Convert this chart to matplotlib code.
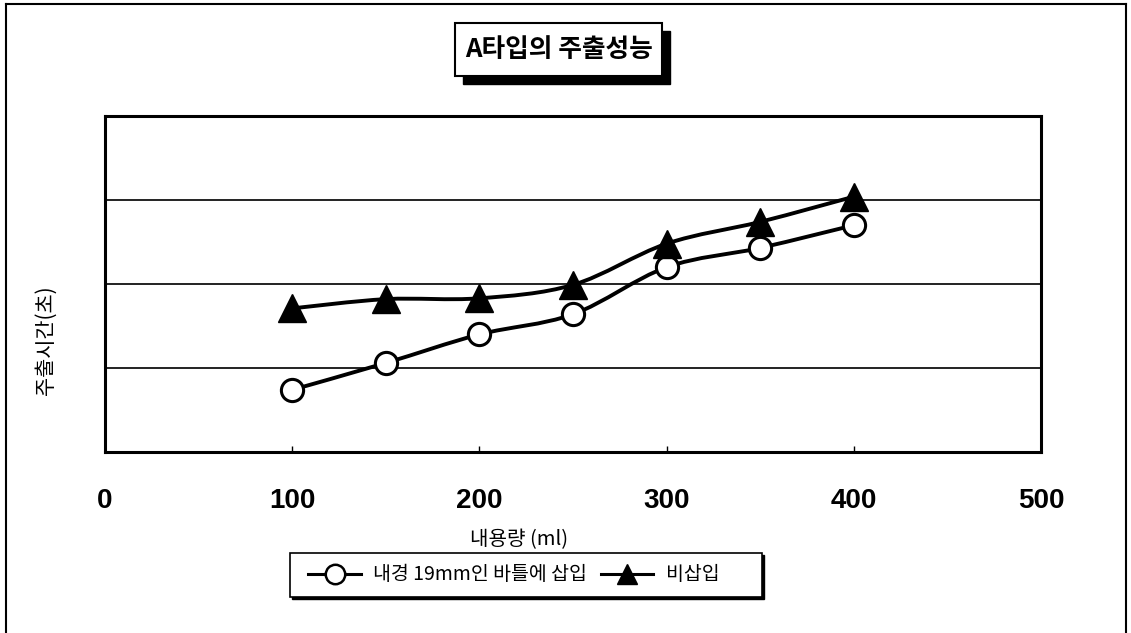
import matplotlib.pyplot as plt
import numpy as np
from matplotlib.path import Path
from matplotlib.patches import PathPatch, Rectangle
from matplotlib.lines import Line2D

plt.rcParams['font.family'] = ['Noto Sans CJK KR', 'DejaVu Sans']

# 데이터 (y축 눈금값이 없어 상대 단위로 읽음)
volume = [100, 150, 200, 250, 300, 350, 400]
inserted = [0.74, 1.06, 1.40, 1.64, 2.20, 2.43, 2.70]     # 내경 19mm인 바틀에 삽입
not_inserted = [1.71, 1.82, 1.83, 1.99, 2.48, 2.74, 3.04]  # 비삽입
x_ticks = [0, 100, 200, 300, 400, 500]
labels = ['내경 19mm인 바틀에 삽입', '비삽입']

W, H = 1131, 633


def smooth_path(xs, ys):
    # 엑셀식 부드러운 선: 데이터 점을 지나는 베지어 곡선
    p = np.column_stack([xs, ys]).astype(float)
    n = len(p)
    verts = [p[0]]
    codes = [Path.MOVETO]
    for i in range(n - 1):
        p0 = p[i - 1] if i > 0 else p[i]
        p3 = p[i + 2] if i + 2 < n else p[i + 1]
        c1 = p[i] + (p[i + 1] - p0) / 6
        c2 = p[i + 1] - (p3 - p[i]) / 6
        verts += [c1, c2, p[i + 1]]
        codes += [Path.CURVE4] * 3
    return Path(verts, codes)


def shadow_box(x0, y0, x1, y1, off, lw):
    # 픽셀 좌표(위에서부터)로 그림자 있는 상자
    fx, fy = x0 / W, 1 - y1 / H
    fw, fh = (x1 - x0) / W, (y1 - y0) / H
    fig.patches.append(Rectangle((fx + off / W, fy - off / H), fw, fh,
                                 transform=fig.transFigure, facecolor='black',
                                 edgecolor='black'))
    fig.patches.append(Rectangle((fx, fy), fw, fh, transform=fig.transFigure,
                                 facecolor='white', edgecolor='black', lw=lw))


fig = plt.figure(figsize=(11.31, 6.33), dpi=100)
ax = fig.add_axes([0.0928, 0.2859, 0.8276, 0.5308])

# 선
for ys in [inserted, not_inserted]:
    ax.add_patch(PathPatch(smooth_path(volume, ys), fill=False,
                           edgecolor='black', lw=2.8, zorder=3))

# 마커
ax.plot(volume, inserted, linestyle='none', marker='o', markersize=16,
        markerfacecolor='white', markeredgecolor='black',
        markeredgewidth=2.2, zorder=4)
ax.plot(volume, not_inserted, linestyle='none', marker='^', markersize=20,
        color='black', zorder=4)

ax.set_xlim(0, 500)
ax.set_ylim(0, 4)
ax.set_xticks(x_ticks)
ax.set_xticklabels([str(t) for t in x_ticks], fontsize=20, fontweight='bold',
                   family=['Liberation Sans', 'DejaVu Sans'])
ax.tick_params(axis='x', direction='in', length=4, width=1, pad=26)
ax.set_yticks([1, 2, 3])
ax.set_yticklabels([])
ax.tick_params(axis='y', length=0)
ax.grid(axis='y', color='#222222', lw=1.4)
ax.set_axisbelow(True)
for s in ax.spines.values():
    s.set_linewidth(2.2)

fig.text(46 / W, 1 - 340 / H, '주출시간(초)', rotation=90, fontsize=15,
         ha='center', va='center')
fig.text(519 / W, 1 - 540 / H, '내용량 (ml)', fontsize=14.5,
         ha='center', va='center')

# 제목 상자
shadow_box(455, 23, 662, 76, 8, 1.5)
fig.text(558.5 / W, 1 - 49.5 / H, 'A타입의 주출성능', fontsize=18.5,
         fontweight='bold', ha='center', va='center')

# 범례
shadow_box(290, 553, 762, 597, 2, 1.2)
handles = [
    Line2D([], [], color='black', lw=2.2, marker='o', markersize=14,
           markerfacecolor='white', markeredgewidth=1.8),
    Line2D([], [], color='black', lw=2.2, marker='^', markersize=15),
]
leg = fig.legend(handles, labels, loc='center', ncol=2,
                 bbox_to_anchor=(514 / W, 1 - 575 / H),
                 fontsize=14, frameon=False, handlelength=2.7,
                 columnspacing=0.7, handletextpad=0.65)

# 바깥 테두리
for xs, ys in [([6, 6], [633, 4]), ([6, 1126], [4, 4]), ([1126, 1126], [4, 633])]:
    fig.add_artist(Line2D([x / W for x in xs], [1 - y / H for y in ys],
                          transform=fig.transFigure, color='black', lw=1.5))

fig.savefig('out.png', dpi=100)
